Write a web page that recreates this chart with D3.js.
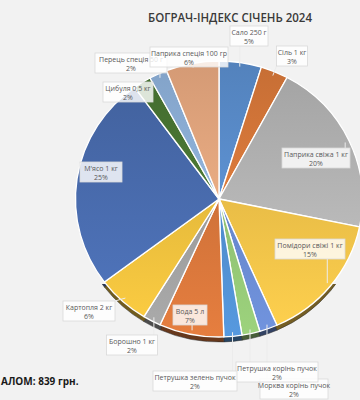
<!DOCTYPE html>
<html><head><meta charset="utf-8">
<script src="https://cdn.jsdelivr.net/npm/d3@7"></script>
<style>
html,body{margin:0;padding:0;background:#f2f2f2;}
svg{display:block;}
text{font-family:"Open Sans","Noto Sans",sans-serif;}
</style></head>
<body>
<svg id="c" width="360" height="400"></svg>
<script>
// ---- data ----
const categories = ["Сало 250 г","Сіль 1 кг","Паприка свіжа 1 кг","Помідори свіжі 1 кг",
  "Морква корінь пучок","Петрушка корінь пучок","Петрушка зелень пучок","Вода 5 л",
  "Борошно 1 кг","Картопля 2 кг","М'ясо 1 кг","Цибуля 0,5 кг","Перець спеція 50 г","Паприка спеція 100 гр"];
const values = [40,26,171,127,17,17,17,61,17,50,212,17,17,50]; // грн
const colors = ["#5e93d5","#e07d3c","#b8b8b8","#efbf47","#6787cc","#90c172","#4f8ccc",
  "#d2733a","#9c9c9c","#e8bc3c","#4a6db0","#4c7a35","#93b8e2","#f0ae84"];
const title = "БОГРАЧ-ІНДЕКС СІЧЕНЬ 2024";
const totalLabel = "АЛОМ: 839 грн.";

// label layout (box centre x, y of first line, box width)
const labelLayout = [
  {x:249,y:33,w:38},{x:292,y:53,w:31},{x:316,y:155,w:68},{x:310,y:246,w:70},
  {x:294,y:386,w:68},{x:277,y:369,w:82},{x:195,y:378,w:84},{x:190,y:312,w:34},
  {x:132,y:342,w:51},{x:89,y:308,w:52},{x:101,y:169,w:42},{x:128,y:89,w:50},
  {x:131,y:60,w:72},{x:189,y:54,w:78}
];

const svg = d3.select("#c");
const W=360,H=400;
svg.append("rect").attr("width",W).attr("height",H).attr("fill","#f2f2f2");
const defs = svg.append("defs");

const cx=219, cy=199, R=138, sx=1.04, depth=5;
const total = d3.sum(values);
const data = categories.map((c,i)=>({name:c,value:values[i],color:colors[i],lab:labelLayout[i]}));
const pie = d3.pie().value(d=>d.value).sort(null);
const arcs = pie(data);
const arc = d3.arc().innerRadius(0).outerRadius(R);

// 3D side (only visible along the lower rim)
defs.append("clipPath").attr("id","rimclip").append("rect")
  .attr("x",0).attr("y",cy+85).attr("width",W).attr("height",H);
const sideG = svg.append("g").attr("clip-path","url(#rimclip)")
  .append("g").attr("transform",`translate(${cx},${cy+depth}) scale(${sx},1)`);
sideG.selectAll("path").data(arcs).join("path")
  .attr("d",arc).attr("fill",d=>d3.color(d.data.color).darker(2))
  .attr("stroke","#2a2a2a").attr("stroke-width",0.5);

// per-slice vertical gradients (darker top, lighter bottom)
arcs.forEach((d,i)=>{
  const g = defs.append("linearGradient").attr("id","g"+i)
    .attr("gradientUnits","userSpaceOnUse").attr("x1",0).attr("y1",-R).attr("x2",0).attr("y2",R);
  g.append("stop").attr("offset","0%").attr("stop-color",d3.color(d.data.color).darker(0.35));
  g.append("stop").attr("offset","100%").attr("stop-color",d3.color(d.data.color).brighter(0.25));
});

const topG = svg.append("g").attr("transform",`translate(${cx},${cy}) scale(${sx},1)`);
topG.selectAll("path").data(arcs).join("path")
  .attr("d",arc).attr("fill",(d,i)=>`url(#g${i})`)
  .attr("stroke","#ffffff").attr("stroke-width",1.3).attr("stroke-linejoin","round");

// labels
const labG = svg.append("g");
arcs.forEach(d=>{
  const L=d.data.lab;
  const a=(d.startAngle+d.endAngle)/2;
  const px=cx+Math.sin(a)*R*0.97*sx, py=cy-Math.cos(a)*R*0.97;
  const bx0=L.x-L.w/2, bx1=L.x+L.w/2, by0=L.y-7, by1=L.y+13;
  const qx=Math.max(bx0,Math.min(bx1,px)), qy=Math.max(by0,Math.min(by1,py));
  labG.append("line").attr("x1",qx).attr("y1",qy).attr("x2",px).attr("y2",py)
    .attr("stroke","#ececec").attr("stroke-width",1);
});
arcs.forEach(d=>{
  const L=d.data.lab;
  const g=labG.append("g");
  g.append("rect").attr("x",L.x-L.w/2).attr("y",L.y-7).attr("width",L.w).attr("height",20)
    .attr("fill","#ffffff").attr("fill-opacity",0.82).attr("stroke","#d9d9d9").attr("stroke-width",0.8);
  g.append("text").attr("x",L.x).attr("y",L.y+1.5).attr("text-anchor","middle")
    .attr("font-size",7).attr("fill","#595959").text(d.data.name);
  g.append("text").attr("x",L.x).attr("y",L.y+10.5).attr("text-anchor","middle")
    .attr("font-size",7).attr("fill","#595959").text(Math.round(d.data.value/total*100)+"%");
});

svg.append("text").attr("x",148).attr("y",22).attr("font-size",12.5).attr("font-weight",600)
  .attr("fill","#3a3a3a").attr("textLength",164).attr("lengthAdjust","spacingAndGlyphs").text(title);
svg.append("text").attr("x",1).attr("y",385).attr("font-size",10)
  .attr("font-weight",700).attr("fill","#1a1a1a").text(totalLabel);
</script>
</body></html>
